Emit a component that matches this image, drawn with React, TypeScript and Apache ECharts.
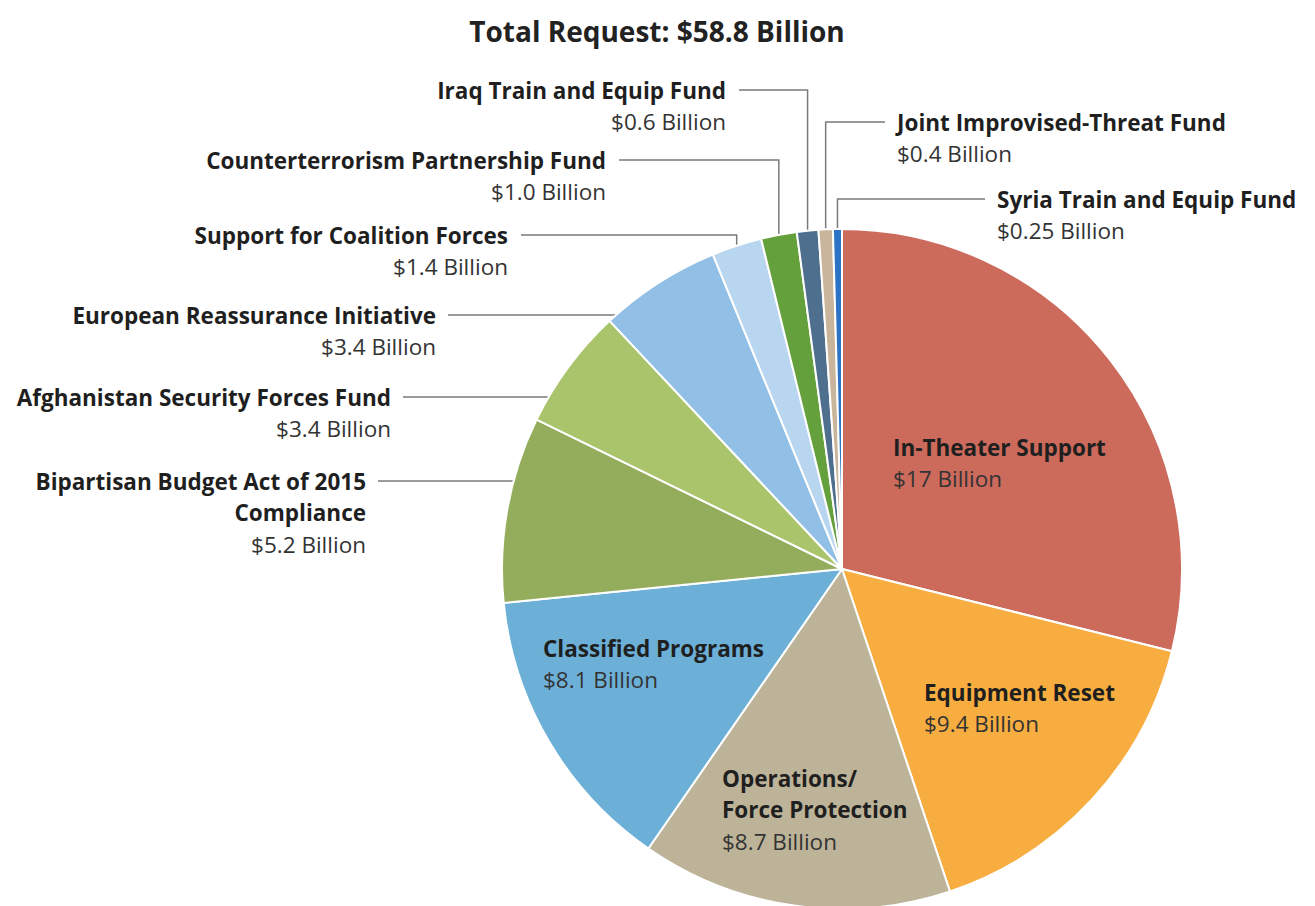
import React, { useEffect, useRef } from "react";
import * as echarts from "echarts";

// ---- data ----
const categories: string[] = [
  "In-Theater Support",
  "Equipment Reset",
  "Operations/\nForce Protection",
  "Classified Programs",
  "Bipartisan Budget Act of 2015\nCompliance",
  "Afghanistan Security Forces Fund",
  "European Reassurance Initiative",
  "Support for Coalition Forces",
  "Counterterrorism Partnership Fund",
  "Iraq Train and Equip Fund",
  "Joint Improvised-Threat Fund",
  "Syria Train and Equip Fund",
];
const valuesBillion: number[] = [17, 9.4, 8.7, 8.1, 5.2, 3.4, 3.4, 1.4, 1.0, 0.6, 0.4, 0.25];
const titleText = "Total Request: $58.8 Billion";

// ---- styles / layout (not data) ----
const sliceColors: string[] = [
  "#cc6a5c", "#f7ad40", "#bdb399", "#6cb0d8", "#93ad5c", "#a9c46b",
  "#92bfe6", "#b9d6f0", "#64a03b", "#4f6f8e", "#c9b59b", "#2b74c5",
];
const FONT = "'Open Sans', 'Noto Sans', sans-serif";
const FS = 22.5;
const LH = 31.5;
const CX = 842;
const CY = 569;
const R = 340;
// kind: in = inside text; lh = left label with horizontal leader; lv = left label with elbow leader; rv = right label with elbow leader
type LP = { kind: "in" | "lh" | "lv" | "rv"; x: number; y: number };
const labelPlace: LP[] = [
  { kind: "in", x: 893, y: 447 },
  { kind: "in", x: 924, y: 692 },
  { kind: "in", x: 722, y: 778 },
  { kind: "in", x: 543, y: 648 },
  { kind: "lh", x: 366, y: 481 },
  { kind: "lh", x: 391, y: 397 },
  { kind: "lh", x: 436, y: 315 },
  { kind: "lv", x: 508, y: 235 },
  { kind: "lv", x: 606, y: 160 },
  { kind: "lv", x: 726, y: 90 },
  { kind: "rv", x: 897, y: 122 },
  { kind: "rv", x: 997, y: 199 },
];

function fmtValue(v: number): string {
  let s: string;
  if (v >= 10 && Number.isInteger(v)) s = String(v);
  else if (Math.round(v * 10) !== v * 10) s = v.toFixed(2);
  else s = v.toFixed(1);
  return `$${s} Billion`;
}

export default function App() {
  const ref = useRef<HTMLDivElement>(null);
  useEffect(() => {
    if (!ref.current) return;
    const chart = echarts.init(ref.current, undefined, { renderer: "svg" });
    const data = categories.map((name, i) => {
      const inside = labelPlace[i].kind === "in";
      return {
        name,
        value: valuesBillion[i],
        itemStyle: { color: sliceColors[i] },
        label: { position: inside ? "inside" : "outside" },
        labelLine: { show: !inside },
      };
    });
    chart.setOption({
      animation: false,
      backgroundColor: "#ffffff",
      title: {
        text: titleText,
        left: 652,
        top: 12,
        textAlign: "center",
        textStyle: { fontFamily: FONT, fontWeight: "bold", fontSize: 28, color: "#222222" },
      },
      series: [
        {
          type: "pie",
          center: [CX, CY],
          radius: R,
          startAngle: 90,
          clockwise: true,
          avoidLabelOverlap: false,
          itemStyle: { borderColor: "#ffffff", borderWidth: 2 },
          emphasis: { disabled: true },
          data,
          label: {
            show: true,
            fontFamily: FONT,
            formatter: (p: any) => {
              const lines = String(p.name).split("\n").map((t: string) => `{n|${t}}`);
              return lines.join("\n") + `\n{v|${fmtValue(p.value)}}`;
            },
            rich: {
              n: { fontFamily: FONT, fontWeight: "bold", fontSize: FS, lineHeight: LH, color: "#1f1f1f" },
              v: { fontFamily: FONT, fontSize: FS, lineHeight: LH, color: "#333333" },
            },
          },
          labelLine: {
            show: true,
            smooth: false,
            lineStyle: { color: "#7a7a7a", width: 1.5 },
          },
          labelLayout: (p: any) => {
            const L = labelPlace[p.dataIndex];
            const top = L.y - LH / 2;
            if (L.kind === "in") {
              return { x: L.x, y: top, align: "left", verticalAlign: "top" };
            }
            const a = p.labelLinePoints && p.labelLinePoints[0] ? p.labelLinePoints[0] : [CX, CY - R];
            if (L.kind === "lh") {
              const ex = CX - Math.sqrt(R * R - (L.y - CY) * (L.y - CY));
              return {
                x: L.x, y: top, align: "right", verticalAlign: "top",
                labelLinePoints: [[L.x + 12, L.y], [(L.x + 12 + ex) / 2, L.y], [ex, L.y]],
              };
            }
            if (L.kind === "lv") {
              return {
                x: L.x, y: top, align: "right", verticalAlign: "top",
                labelLinePoints: [[L.x + 13, L.y], [a[0], L.y], [a[0], a[1]]],
              };
            }
            return {
              x: L.x, y: top, align: "left", verticalAlign: "top",
              labelLinePoints: [[L.x - 12, L.y], [a[0], L.y], [a[0], a[1]]],
            };
          },
        },
      ],
    });
    return () => chart.dispose();
  }, []);
  return (
    <div
      ref={ref}
      style={{ position: "absolute", left: 0, top: 0, width: 1315, height: 906 }}
    />
  );
}
